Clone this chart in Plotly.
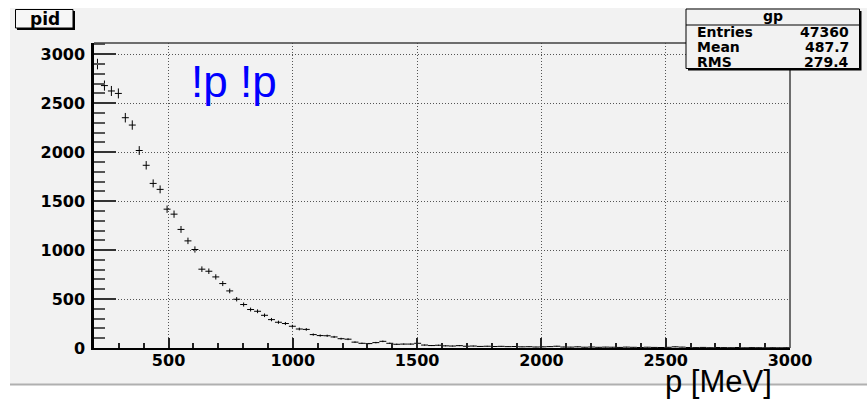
import numpy as np
import plotly.graph_objects as go

# Histogram "gp": momentum spectrum, 100 bins from 200 to 3000 MeV
x_min, x_max, n_bins = 200, 3000, 100
counts = [
    2900, 2680, 2625, 2600, 2352, 2277, 2017, 1866, 1681, 1620,
    1418, 1367, 1211, 1094, 1006, 805, 784, 726, 658, 583,
    498, 444, 393, 375, 334, 290, 263, 250, 222, 194,
    190, 137, 127, 125, 113, 95, 90, 60, 48, 45,
    55, 68, 48, 38, 40, 40, 48, 30, 25, 28,
    22, 20, 24, 18, 20, 16, 18, 15, 17, 14,
    15, 12, 13, 10, 12, 14, 18, 10, 9, 12,
    8, 10, 7, 9, 8, 6, 9, 7, 5, 8,
    6, 5, 7, 12, 9, 5, 4, 6, 3, 5,
    4, 3, 5, 2, 4, 3, 2, 3, 2, 3,
]

y_ticks = [0, 500, 1000, 1500, 2000, 2500, 3000]
x_ticks = [500, 1000, 1500, 2000, 2500, 3000]

stat_title = "gp"
stat_names = ["Entries", "Mean", "RMS"]
stat_values = ["47360", "487.7", "279.4"]

hist_title = "pid"
plot_label = "!p !p"
x_title = "p [MeV]"

edges = np.linspace(x_min, x_max, n_bins + 1)
centers = 0.5 * (edges[:-1] + edges[1:])
half_width = 0.5 * (edges[1:] - edges[:-1])
errors = np.sqrt(np.array(counts, dtype=float))

W, H = 867, 399
ML, MR, MT, MB = 94, 77, 43, 51
PW, PH = W - ML - MR, H - MT - MB


def px_x(p):
    return (p - ML) / PW


def px_y(p):
    return (H - MB - p) / PH


PAD = "#f2f2f2"
FONT_BOLD = "DejaVu Sans"
FONT_TEXT = "Liberation Sans Narrow, Liberation Sans, Arial"

fig = go.Figure()
fig.add_trace(go.Scatter(
    x=centers, y=counts, mode="markers",
    marker=dict(size=1, color="rgba(0,0,0,0)"),
    error_x=dict(type="data", array=half_width, symmetric=True,
                 color="black", thickness=1, width=0),
    error_y=dict(type="data", array=errors, symmetric=True,
                 color="black", thickness=1, width=0),
    showlegend=False, hoverinfo="skip",
))

shapes = [
    # pad background
    dict(type="rect", xref="paper", yref="paper",
         x0=px_x(10), x1=px_x(W + 5), y0=px_y(384), y1=px_y(8),
         fillcolor=PAD, line=dict(width=0), layer="below"),
    dict(type="line", xref="paper", yref="paper",
         x0=px_x(10), x1=px_x(W + 5), y0=px_y(384.5), y1=px_y(384.5),
         line=dict(color="#b0b0b0", width=2), layer="below"),
    # frame top and right
    dict(type="line", xref="paper", yref="paper",
         x0=0, x1=px_x(686), y0=1, y1=1,
         line=dict(color="#404040", width=1.5)),
    dict(type="line", xref="paper", yref="paper",
         x0=1, x1=1, y0=0, y1=px_y(69),
         line=dict(color="#404040", width=1.5)),
    # title box with shadow
    dict(type="rect", xref="paper", yref="paper",
         x0=px_x(17), x1=px_x(75), y0=px_y(30), y1=px_y(11),
         fillcolor="black", line=dict(width=0)),
    dict(type="rect", xref="paper", yref="paper",
         x0=px_x(15.5), x1=px_x(73), y0=px_y(28), y1=px_y(9.5),
         fillcolor="#f6f6f6", line=dict(color="black", width=1)),
    # stats box with shadow
    dict(type="rect", xref="paper", yref="paper",
         x0=px_x(688), x1=px_x(861.5), y0=px_y(70.5), y1=px_y(11),
         fillcolor="black", line=dict(width=0)),
    dict(type="rect", xref="paper", yref="paper",
         x0=px_x(686), x1=px_x(859.5), y0=px_y(68.5), y1=px_y(9),
         fillcolor=PAD, line=dict(color="black", width=1)),
    dict(type="line", xref="paper", yref="paper",
         x0=px_x(686), x1=px_x(859.5), y0=px_y(25), y1=px_y(25),
         line=dict(color="black", width=1)),
]

annotations = [
    dict(text=f"<b>{hist_title}</b>", xref="paper", yref="paper",
         x=px_x(44.5), y=px_y(19), xanchor="center", yanchor="middle",
         showarrow=False, font=dict(family=FONT_BOLD, size=17, color="black")),
    dict(text=f"<b>{stat_title}</b>", xref="paper", yref="paper",
         x=px_x(773), y=px_y(16.5), xanchor="center", yanchor="middle",
         showarrow=False, font=dict(family=FONT_BOLD, size=14, color="black")),
    dict(text=plot_label, xref="paper", yref="paper",
         x=px_x(189), y=px_y(81), xanchor="left", yanchor="middle",
         showarrow=False, font=dict(family=FONT_TEXT, size=44, color="#0000ff")),
    dict(text=x_title, xref="paper", yref="paper",
         x=px_x(774), y=px_y(381.5), xanchor="right", yanchor="middle",
         showarrow=False, font=dict(family=FONT_TEXT, size=31, color="black")),
]
for i, (name, val) in enumerate(zip(stat_names, stat_values)):
    yc = 32 + 15.2 * i
    annotations.append(dict(
        text=f"<b>{name}</b>", xref="paper", yref="paper",
        x=px_x(695), y=px_y(yc), xanchor="left", yanchor="middle",
        showarrow=False, font=dict(family=FONT_BOLD, size=14, color="black")))
    annotations.append(dict(
        text=f"<b>{val}</b>", xref="paper", yref="paper",
        x=px_x(851), y=px_y(yc), xanchor="right", yanchor="middle",
        showarrow=False, font=dict(family=FONT_BOLD, size=14, color="black")))

tick_font = dict(family=FONT_BOLD, size=16, color="black", weight="bold")

fig.update_layout(
    width=W, height=H,
    margin=dict(l=ML, r=MR, t=MT, b=MB, pad=0),
    paper_bgcolor="white", plot_bgcolor="rgba(0,0,0,0)",
    shapes=shapes, annotations=annotations,
    xaxis=dict(
        range=[x_min, x_max], tickvals=x_ticks, ticktext=[str(v) for v in x_ticks],
        ticks="inside", ticklen=10, tickwidth=1.5, tickcolor="#222",
        minor=dict(dtick=100, tick0=0, ticks="inside", ticklen=5,
                   tickwidth=1.5, tickcolor="#222", showgrid=False),
        showline=True, linecolor="black", linewidth=2,
        showgrid=True, gridcolor="#555", gridwidth=1, griddash="1px,2px",
        zeroline=False,
        tickfont=tick_font,
        ticklabelstandoff=-3,
    ),
    yaxis=dict(
        range=[0, 3115], tickvals=y_ticks, ticktext=[str(v) for v in y_ticks],
        ticks="inside", ticklen=22, tickwidth=2, tickcolor="#333",
        minor=dict(dtick=100, tick0=0, ticks="inside", ticklen=11,
                   tickwidth=2, tickcolor="#555", showgrid=False),
        showline=True, linecolor="black", linewidth=2.5,
        showgrid=True, gridcolor="#555", gridwidth=1, griddash="1px,2px",
        zeroline=False,
        tickfont=tick_font,
        ticklabelstandoff=3,
    ),
)

fig.write_html("out.html")
